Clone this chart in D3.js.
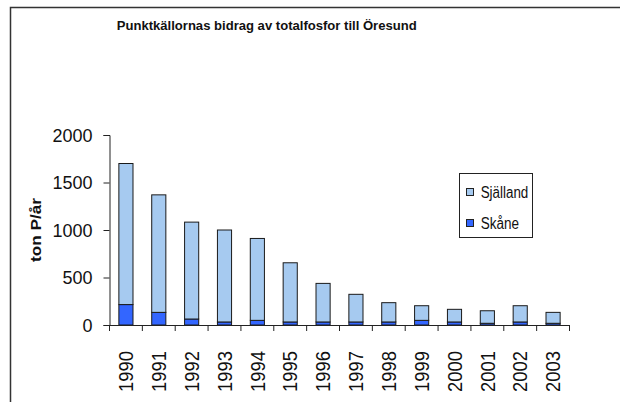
<!DOCTYPE html>
<html><head><meta charset="utf-8">
<script src="https://cdn.jsdelivr.net/npm/d3@7"></script>
<style>
html,body{margin:0;padding:0;background:#fff;}
svg{display:block;font-family:"Liberation Sans",Arial,sans-serif;}
</style></head>
<body><svg id="c" width="620" height="402"></svg>
<script>
const years = ["1990","1991","1992","1993","1994","1995","1996","1997","1998","1999","2000","2001","2002","2003"];
const skane = [215,133,63,32,49,32,32,32,32,49,32,18,32,18];
const sjalland = [1485,1237,1020,968,862,623,406,291,203,154,133,132,171,115];
const seriesNames = ["Skåne","Själland"];
const seriesColors = ["#3366FF","#A6CAF0"];
const yTicks = [0,500,1000,1500,2000];
const title = "Punktkällornas bidrag av totalfosfor till Öresund";
const yLabel = "ton P/år";

const svg = d3.select("#c");
// outer border
svg.append("rect").attr("x",10.5).attr("y",7.5).attr("width",700).attr("height",500)
  .attr("fill","none").attr("stroke","#333").attr("stroke-width",1.5);

const x = d3.scaleBand().domain(years).range([109.5,569.5]).paddingInner(0.57).paddingOuter(0.285);
const y = d3.scaleLinear().domain([0,2000]).range([325,135]);

const rows = years.map((yr,i)=>({year:yr,"Skåne":skane[i],"Själland":sjalland[i]}));
const stack = d3.stack().keys(seriesNames)(rows);

svg.append("g").selectAll("g").data(stack).join("g")
  .attr("fill",(d,i)=>seriesColors[i])
  .selectAll("rect").data(d=>d).join("rect")
  .attr("x",d=>x(d.data.year)).attr("width",x.bandwidth())
  .attr("y",d=>y(d[1])).attr("height",d=>y(d[0])-y(d[1]))
  .attr("stroke","#1a1a1a").attr("stroke-width",1);

// y axis
const ya = svg.append("g").attr("transform","translate(109.5,0)")
  .call(d3.axisLeft(y).tickValues(yTicks).tickSize(6).tickPadding(11).tickFormat(d3.format("d")));
ya.select(".domain").attr("stroke","#222");
ya.selectAll(".tick line").attr("stroke","#222");
ya.selectAll(".tick text").attr("font-size",19).attr("fill","#111")
  .attr("font-family","Liberation Sans, Arial, sans-serif")
  .each(function(d){ const s=String(d); d3.select(this).attr("textLength", s.length*10).attr("lengthAdjust","spacingAndGlyphs"); });

// x axis: line and ticks at band boundaries
const step = x.step();
const x0 = x.range()[0];
svg.append("line").attr("x1",x0).attr("x2",x.range()[1]).attr("y1",325.5).attr("y2",325.5).attr("stroke","#222");
svg.append("g").selectAll("line").data(d3.range(years.length+1)).join("line")
  .attr("x1",i=>x0+i*step).attr("x2",i=>x0+i*step).attr("y1",325).attr("y2",331).attr("stroke","#222");
svg.append("g").selectAll("text").data(years).join("text")
  .attr("transform",d=>`translate(${x(d)+x.bandwidth()/2},351) rotate(-90)`)
  .attr("text-anchor","end").attr("dy","0.36em").attr("font-size",20).attr("fill","#111")
  .attr("textLength",41).attr("lengthAdjust","spacingAndGlyphs")
  .text(d=>d);

// title
svg.append("text").attr("x",266.7).attr("y",29.5).attr("text-anchor","middle")
  .attr("font-size",13).attr("font-weight","bold").attr("fill","#111")
  .attr("textLength",300).attr("lengthAdjust","spacingAndGlyphs").text(title);

// y label
svg.append("text").attr("transform","translate(41,230) rotate(-90)").attr("text-anchor","middle")
  .attr("font-size",14).attr("font-weight","bold").attr("fill","#111")
  .attr("textLength",64).attr("lengthAdjust","spacingAndGlyphs").text(yLabel);

// legend
const lg = svg.append("g");
lg.append("rect").attr("x",459.5).attr("y",173.5).attr("width",73).attr("height",64)
  .attr("fill","#fff").attr("stroke","#222").attr("stroke-width",1);
const legendItems = [{name:"Själland",color:seriesColors[1],w:47.6},{name:"Skåne",color:seriesColors[0],w:38.3}];
legendItems.forEach((it,i)=>{
  const cy = 192 + i*31;
  lg.append("rect").attr("x",466.5).attr("y",cy-3.5).attr("width",7).attr("height",7)
    .attr("fill",it.color).attr("stroke","#222").attr("stroke-width",1);
  lg.append("text").attr("x",480.7).attr("y",cy+6).attr("font-size",16).attr("fill","#111")
    .attr("textLength",it.w).attr("lengthAdjust","spacingAndGlyphs").text(it.name);
});
</script></body></html>
